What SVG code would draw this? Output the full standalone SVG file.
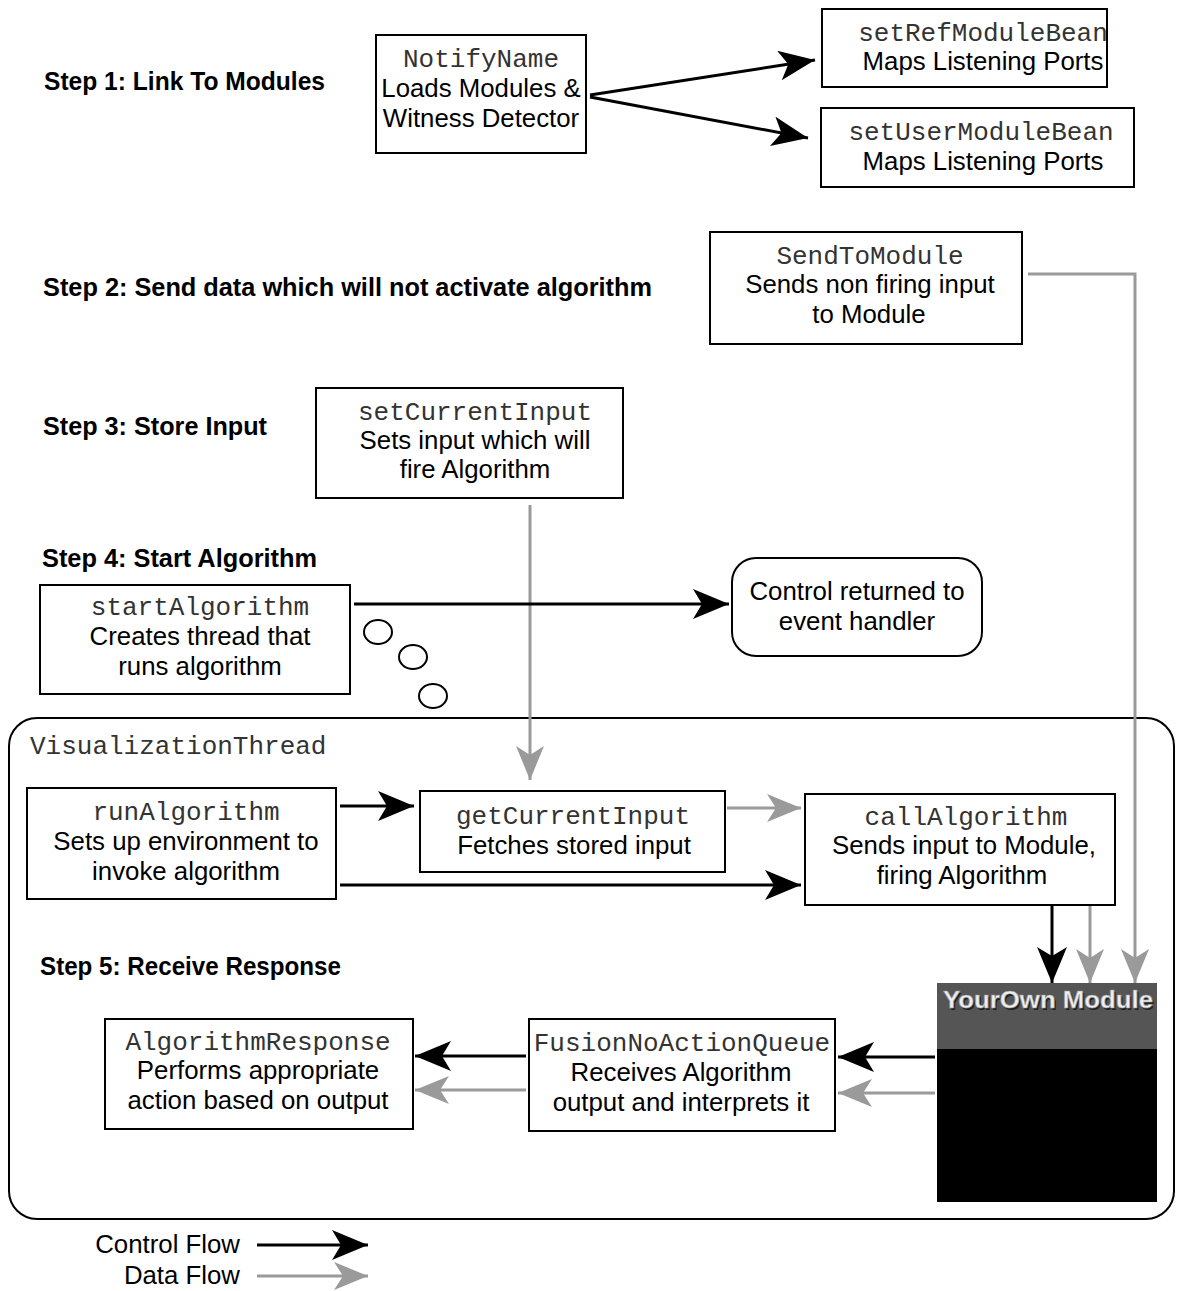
<svg xmlns="http://www.w3.org/2000/svg" width="1178" height="1291" viewBox="0 0 1178 1291">
<style>
.box{fill:#fff;stroke:#000;stroke-width:2}
.mono{font-family:"Liberation Mono","Courier New",monospace;font-size:26px;fill:#333;text-anchor:middle}
.sans{font-family:"Liberation Sans",Arial,sans-serif;font-size:25.8px;fill:#000;text-anchor:middle}
.step{font-family:"Liberation Sans",Arial,sans-serif;font-size:25px;font-weight:bold;fill:#000}
.ctl{fill:none;stroke:#000;stroke-width:3}
.dat{fill:none;stroke:#9a9a9a;stroke-width:3}
</style>
<defs>
<marker id="ah" markerUnits="userSpaceOnUse" markerWidth="38" markerHeight="32" refX="36" refY="15" orient="auto" viewBox="0 0 38 32">
<path d="M0,0 L36,15 L0,30 L9,15 z" fill="#000"/>
</marker>
<marker id="ahg" markerUnits="userSpaceOnUse" markerWidth="38" markerHeight="32" refX="34" refY="14" orient="auto" viewBox="0 0 38 32">
<path d="M0,0 L34,14 L0,28 L9,14 z" fill="#9a9a9a"/>
</marker>
</defs>

<g id="labels">
<text class="step" x="44" y="90" textLength="281" lengthAdjust="spacingAndGlyphs">Step 1: Link To Modules</text>
<text class="step" x="43" y="296" textLength="609" lengthAdjust="spacingAndGlyphs">Step 2: Send data which will not activate algorithm</text>
<text class="step" x="43" y="435" textLength="224" lengthAdjust="spacingAndGlyphs">Step 3: Store Input</text>
<text class="step" x="42" y="567" textLength="275" lengthAdjust="spacingAndGlyphs">Step 4: Start Algorithm</text>
<text class="step" x="40" y="975" textLength="301" lengthAdjust="spacingAndGlyphs">Step 5: Receive Response</text>
</g>

<g id="container">
<rect x="9" y="718" width="1165" height="501" rx="28" ry="28" fill="none" stroke="#000" stroke-width="2"/>
<text x="30" y="754" font-family="Liberation Mono, monospace" font-size="26" fill="#333">VisualizationThread</text>
</g>

<g id="connectors">
<line class="ctl" x1="590" y1="95" x2="815" y2="60" marker-end="url(#ah)"/>
<line class="ctl" x1="590" y1="97" x2="808" y2="138" marker-end="url(#ah)"/>
<polyline class="dat" points="1028,274 1135,274 1135,983" marker-end="url(#ahg)"/>
<line class="dat" x1="530" y1="505" x2="530" y2="780" marker-end="url(#ahg)"/>
<line class="ctl" x1="354" y1="604" x2="729" y2="604" marker-end="url(#ah)"/>
<line class="ctl" x1="340" y1="806" x2="414" y2="806" marker-end="url(#ah)"/>
<line class="dat" x1="727" y1="808" x2="801" y2="808" marker-end="url(#ahg)"/>
<line class="ctl" x1="340" y1="885" x2="801" y2="885" marker-end="url(#ah)"/>
<line class="ctl" x1="1052" y1="906" x2="1052" y2="983" marker-end="url(#ah)"/>
<line class="dat" x1="1090" y1="906" x2="1090" y2="983" marker-end="url(#ahg)"/>
<line class="ctl" x1="935" y1="1057" x2="838" y2="1057" marker-end="url(#ah)"/>
<line class="dat" x1="935" y1="1093" x2="838" y2="1093" marker-end="url(#ahg)"/>
<line class="ctl" x1="526" y1="1056" x2="415" y2="1056" marker-end="url(#ah)"/>
<line class="dat" x1="526" y1="1090" x2="415" y2="1090" marker-end="url(#ahg)"/>
</g>

<g id="notifyName">
<rect class="box" x="376" y="35" width="210" height="118"/>
<text class="mono" x="481" y="67">NotifyName</text>
<text class="sans" x="481" y="97">Loads Modules &amp;</text>
<text class="sans" x="481" y="127">Witness Detector</text>
</g>
<g id="setRefModuleBean">
<rect class="box" x="822" y="9" width="285" height="78"/>
<text class="mono" x="983" y="41">setRefModuleBean</text>
<text class="sans" x="983" y="70">Maps Listening Ports</text>
</g>
<g id="setUserModuleBean">
<rect class="box" x="821" y="108" width="313" height="79"/>
<text class="mono" x="981" y="140">setUserModuleBean</text>
<text class="sans" x="983" y="170">Maps Listening Ports</text>
</g>
<g id="sendToModule">
<rect class="box" x="710" y="232" width="312" height="112"/>
<text class="mono" x="870" y="264">SendToModule</text>
<text class="sans" x="870" y="293">Sends non firing input</text>
<text class="sans" x="869" y="323">to Module</text>
</g>
<g id="setCurrentInput">
<rect class="box" x="316" y="388" width="307" height="110"/>
<text class="mono" x="475" y="420">setCurrentInput</text>
<text class="sans" x="475" y="449">Sets input which will</text>
<text class="sans" x="475" y="478">fire Algorithm</text>
</g>
<g id="startAlgorithm">
<rect class="box" x="40" y="585" width="310" height="109"/>
<text class="mono" x="200" y="615">startAlgorithm</text>
<text class="sans" x="200" y="645">Creates thread that</text>
<text class="sans" x="200" y="675">runs algorithm</text>
<ellipse cx="378" cy="632" rx="14" ry="12" fill="none" stroke="#000" stroke-width="2"/>
<ellipse cx="413" cy="657" rx="14" ry="12" fill="none" stroke="#000" stroke-width="2"/>
<ellipse cx="433" cy="696" rx="14" ry="12" fill="none" stroke="#000" stroke-width="2"/>
</g>
<g id="controlReturned">
<rect class="box" x="732" y="558" width="250" height="98" rx="24" ry="24"/>
<text class="sans" x="857" y="600">Control returned to</text>
<text class="sans" x="857" y="630">event handler</text>
</g>
<g id="runAlgorithm">
<rect class="box" x="27" y="788" width="309" height="111"/>
<text class="mono" x="186" y="820">runAlgorithm</text>
<text class="sans" x="186" y="850">Sets up environment to</text>
<text class="sans" x="186" y="880">invoke algorithm</text>
</g>
<g id="getCurrentInput">
<rect class="box" x="420" y="791" width="305" height="81"/>
<text class="mono" x="573" y="824">getCurrentInput</text>
<text class="sans" x="574" y="854">Fetches stored input</text>
</g>
<g id="callAlgorithm">
<rect class="box" x="805" y="794" width="310" height="111"/>
<text class="mono" x="966" y="825">callAlgorithm</text>
<text class="sans" x="964" y="854">Sends input to Module,</text>
<text class="sans" x="962" y="884">firing Algorithm</text>
</g>
<g id="yourOwnModule">
<rect x="937" y="983" width="220" height="219" fill="#000"/>
<rect x="937" y="983" width="220" height="66" fill="#555"/>
<text x="1048" y="1008" font-family="Liberation Sans, Arial, sans-serif" font-size="24" font-weight="bold" text-anchor="middle" fill="#222" textLength="210" lengthAdjust="spacingAndGlyphs" transform="translate(1.5,1.5)">YourOwn Module</text>
<text x="1048" y="1008" font-family="Liberation Sans, Arial, sans-serif" font-size="24" font-weight="bold" text-anchor="middle" fill="#eee" stroke="#999" stroke-width="0.6" textLength="210" lengthAdjust="spacingAndGlyphs">YourOwn Module</text>
</g>
<g id="fusionNoActionQueue">
<rect class="box" x="529" y="1019" width="306" height="112"/>
<text class="mono" x="682" y="1051">FusionNoActionQueue</text>
<text class="sans" x="681" y="1081">Receives Algorithm</text>
<text class="sans" x="681" y="1111">output and interprets it</text>
</g>
<g id="algorithmResponse">
<rect class="box" x="105" y="1019" width="308" height="110"/>
<text class="mono" x="258" y="1050">AlgorithmResponse</text>
<text class="sans" x="258" y="1079">Performs appropriate</text>
<text class="sans" x="258" y="1109">action based on output</text>
</g>

<g id="legend">
<text class="sans" x="240" y="1253" style="text-anchor:end">Control Flow</text>
<text class="sans" x="240" y="1284" style="text-anchor:end">Data Flow</text>
<line class="ctl" x1="257" y1="1245" x2="368" y2="1245" marker-end="url(#ah)"/>
<line class="dat" x1="257" y1="1276" x2="368" y2="1276" marker-end="url(#ahg)"/>
</g>
</svg>
